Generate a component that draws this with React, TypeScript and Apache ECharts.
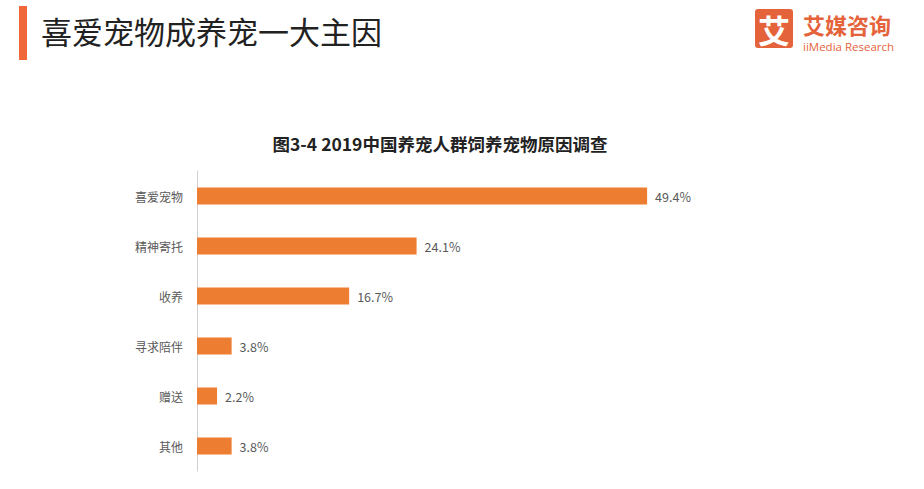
import React, { useEffect, useRef } from "react";
import * as echarts from "echarts";

const categories = ["喜爱宠物", "精神寄托", "收养", "寻求陪伴", "赠送", "其他"];
const values = [49.4, 24.1, 16.7, 3.8, 2.2, 3.8];
const pageTitle = "喜爱宠物成养宠一大主因";
const chartTitle = "图3-4 2019中国养宠人群饲养宠物原因调查";

const FONT = "'Noto Sans CJK SC', 'Noto Sans', sans-serif";

export default function App() {
  const ref = useRef<HTMLDivElement>(null);
  useEffect(() => {
    if (!ref.current) return;
    const chart = echarts.init(ref.current, undefined, { renderer: "svg" });
    chart.setOption({
      animation: false,
      backgroundColor: "#ffffff",
      textStyle: { fontFamily: FONT },
      grid: { left: 197, top: 171, width: 546.7, height: 300 },
      xAxis: {
        type: "value",
        min: 0,
        max: 60,
        show: false,
      },
      yAxis: {
        type: "category",
        data: categories,
        inverse: true,
        axisLine: { show: true, lineStyle: { color: "#d0d0d0", width: 1 } },
        axisTick: { show: false },
        axisLabel: { color: "#5a5a5a", fontSize: 12, margin: 14, fontFamily: FONT },
      },
      series: [
        {
          type: "bar",
          data: values,
          barWidth: 17,
          itemStyle: { color: "#ed7d31" },
          label: {
            show: true,
            position: "right",
            distance: 8,
            color: "#5a5a5a",
            fontSize: 12.5,
            fontFamily: FONT,
            formatter: (p: any) => p.value.toFixed(1) + "%",
          },
        },
      ],
      graphic: [
        { type: "rect", shape: { x: 19, y: 6, width: 8, height: 54 }, style: { fill: "#f0683a" } },
        {
          type: "text",
          x: 41,
          y: 30,
          style: {
            text: pageTitle,
            fontSize: 31,
            fontFamily: FONT,
            fill: "#222222",
            textVerticalAlign: "middle",
          },
        },
        {
          type: "text",
          x: 440,
          y: 143,
          style: {
            text: chartTitle,
            fontSize: 17.5,
            fontWeight: "bold",
            fontFamily: FONT,
            fill: "#222222",
            textAlign: "center",
            textVerticalAlign: "middle",
          },
        },
        { type: "rect", shape: { x: 755, y: 9, width: 38, height: 39, r: 3 }, style: { fill: "#e5633b" } },
        {
          type: "text",
          x: 774,
          y: 29,
          style: {
            text: "艾",
            fontSize: 32,
            fontWeight: "bold",
            fontFamily: FONT,
            fill: "#ffffff",
            textAlign: "center",
            textVerticalAlign: "middle",
          },
        },
        {
          type: "text",
          x: 803,
          y: 24,
          style: {
            text: "艾媒咨询",
            fontSize: 22,
            fontWeight: "bold",
            fontFamily: FONT,
            fill: "#e5633b",
            textVerticalAlign: "middle",
          },
        },
        {
          type: "text",
          x: 803,
          y: 46,
          style: {
            text: "iiMedia Research",
            fontSize: 11.5,
            fontFamily: "'Open Sans', 'Noto Sans', sans-serif",
            fill: "#e5633b",
            textVerticalAlign: "middle",
          },
        },
      ],
    });
    return () => chart.dispose();
  }, []);
  return <div ref={ref} style={{ width: 924, height: 489, position: "absolute", left: 0, top: 0 }} />;
}
